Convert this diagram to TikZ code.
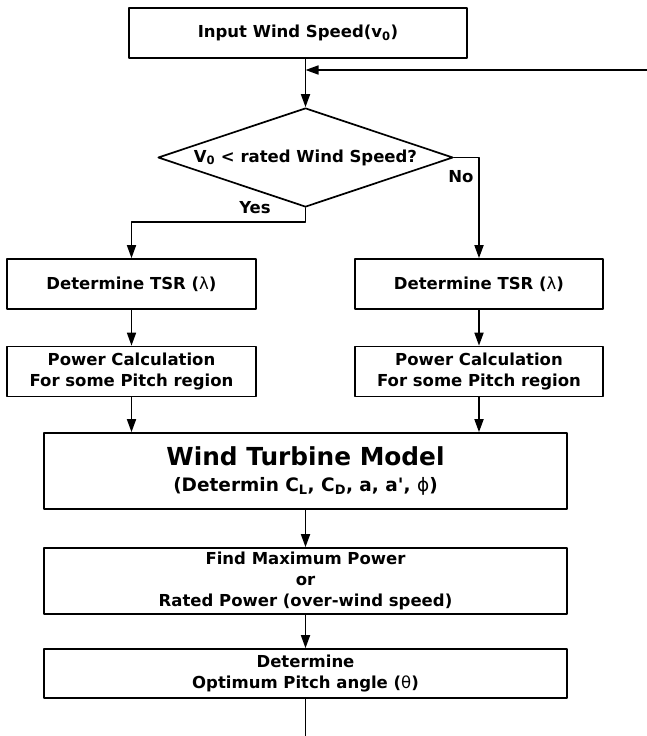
\documentclass[tikz,border=0pt]{standalone}
\usepackage{fontspec}
\setmainfont{DejaVu Sans}
\usepackage{tikz}
\usetikzlibrary{arrows.meta,calc}
\usetikzlibrary{positioning,shapes.geometric}

\begin{document}
\begin{tikzpicture}[x=1pt, y=-1pt, line cap=round, line join=round,
  box/.style={draw, line width=1.7pt, inner sep=0pt, align=center,
    font=\bfseries\fontsize{16.5}{21}\selectfont},
  flow/.style={line width=1.7pt, -{Triangle[length=13pt,width=9pt]}}]
  \useasboundingbox (0,0) rectangle (647,736);

  % Points
  \coordinate (back) at (647,70);
  \coordinate (out) at (305.5,736);

  % Boxes
  \node[box, minimum width=338, minimum height=50] (input) at (298,33)
    {Input Wind Speed(v\textsubscript{0})};
  \node[box, diamond, aspect=2.98, minimum width=295, minimum height=99] (cond) at (305.5,157.5)
    {V\textsubscript{0} < rated Wind Speed?};
  \node[box, minimum width=249, minimum height=50] (tsrL) at (131.5,284)
    {Determine TSR ({\mdseries λ})};
  \node[box, minimum width=248, minimum height=50] (tsrR) at (479,284)
    {Determine TSR ({\mdseries λ})};
  \node[box, minimum width=249, minimum height=50] (powL) at (131.5,371.5)
    {Power Calculation\\For some Pitch region};
  \node[box, minimum width=248, minimum height=50] (powR) at (479,371.5)
    {Power Calculation\\For some Pitch region};
  \node[box, minimum width=523, minimum height=76] (wtm) at (305.5,471)
    {{\fontsize{24.8}{28}\selectfont Wind Turbine Model}\\[5pt]
     {\fontsize{18.5}{22}\selectfont (Determin C\textsubscript{L}, C\textsubscript{D}, a, a\textquotesingle, {\mdseries ϕ})}};
  \node[box, minimum width=523, minimum height=66] (findp) at (305.5,581)
    {Find Maximum Power\\or\\Rated Power (over-wind speed)};
  \node[box, minimum width=523, minimum height=49] (optp) at (305.5,673.5)
    {Determine\\Optimum Pitch angle ({\mdseries θ})};

  % Labels
  \node[font=\bfseries\fontsize{16.5}{21}\selectfont] (yes) at (255,208) {Yes};
  \node[font=\bfseries\fontsize{16.5}{21}\selectfont] (no) at (461,177) {No};

  % Connectors
  \draw[flow] (cond.north |- input.south) -- (cond.north);
  \draw[flow] (back) -- (back -| cond.north);
  \draw[flow] (cond.south) -- ++(0,14) -| (tsrL.north);
  \draw[flow] (cond.east) -| (tsrR.north);
  \draw[flow] (tsrL) -- (powL);
  \draw[flow] (tsrR) -- (powR);
  \draw[flow] (powL.south) -- (powL.south |- wtm.north);
  \draw[flow] (powR.south) -- (powR.south |- wtm.north);
  \draw[flow] (wtm) -- (findp);
  \draw[flow] (findp) -- (optp);
  \draw[line width=1.7pt] (optp) -- (out);
\end{tikzpicture}
\end{document}
